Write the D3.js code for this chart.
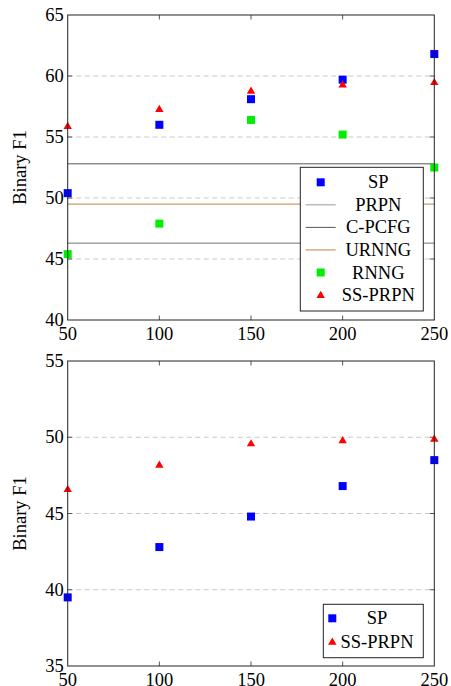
<!DOCTYPE html>
<html>
<head>
<meta charset="utf-8">
<script src="https://cdn.jsdelivr.net/npm/d3@7"></script>
<style>
  body { margin: 0; background: #fff; }
</style>
</head>
<body>
<div id="chartArea"></div>
<script>
const w = 451;
const h = 686;

// shared x values
const sizes = [50, 100, 150, 200, 250];

// top panel
const topSP = [50.4, 56.0, 58.1, 59.7, 61.8];
const topRNNG = [45.4, 47.9, 56.4, 55.2, 52.5];
const topSSPRPN = [55.9, 57.3, 58.8, 59.3, 59.5];
const prpn = 46.3;
const cpcfg = 52.8;
const urnng = 49.5;
const topYTicks = [40, 45, 50, 55, 60, 65];

// bottom panel
const botSP = [39.5, 42.8, 44.8, 46.8, 48.5];
const botSSPRPN = [46.6, 48.2, 49.6, 49.8, 49.9];
const botYTicks = [35, 40, 45, 50, 55];

const fontSize = 18.5;
const font = "Liberation Serif";
const prpnColor = "#999";
const cpcfgColor = "#555";
const urnngColor = "#c08040";

const svg = d3.select("#chartArea")
    .append("svg")
    .attr("width", w)
    .attr("height", h);

const x = d3.scaleLinear()
    .domain([50, 250])
    .range([67.7, 434.3]);

function label(g, tx, ty, str, anchor) {
    return g.append("text")
        .attr("x", tx)
        .attr("y", ty)
        .attr("text-anchor", anchor)
        .style("font-family", font)
        .style("font-size", fontSize + "px")
        .text(str);
}

function square(g, xs, ys, yScale, color) {
    g.selectAll(null)
        .data(xs.map((d, i) => [d, ys[i]]))
        .enter()
        .append("rect")
        .attr("x", d => x(d[0]) - 4)
        .attr("y", d => yScale(d[1]) - 4)
        .attr("width", 8)
        .attr("height", 8)
        .attr("fill", color);
}

function triangle(g, xs, ys, yScale) {
    g.selectAll(null)
        .data(xs.map((d, i) => [d, ys[i]]))
        .enter()
        .append("path")
        .attr("d", d => {
            let cx = x(d[0]), cy = yScale(d[1]);
            return `M${cx - 4.2},${cy + 3} L${cx + 4.2},${cy + 3} L${cx},${cy - 4.2} Z`;
        })
        .attr("fill", "red");
}

function drawPanel(y, ticks, top, bottom) {
    let g = svg.append("g");

    // dashed grid
    g.selectAll(null)
        .data(ticks.slice(1, -1))
        .enter()
        .append("line")
        .attr("x1", x(50))
        .attr("x2", x(250))
        .attr("y1", d => y(d))
        .attr("y2", d => y(d))
        .attr("stroke", "#bbb")
        .attr("stroke-width", 0.8)
        .attr("stroke-dasharray", "5,3.5");

    // inner ticks on all four sides
    let tl = 4.5;
    sizes.slice(1, -1).forEach(v => {
        g.append("line").attr("x1", x(v)).attr("x2", x(v))
            .attr("y1", top).attr("y2", top + tl).attr("stroke", "#555");
        g.append("line").attr("x1", x(v)).attr("x2", x(v))
            .attr("y1", bottom).attr("y2", bottom - tl).attr("stroke", "#555");
    });
    ticks.slice(1, -1).forEach(v => {
        g.append("line").attr("x1", x(50)).attr("x2", x(50) + tl)
            .attr("y1", y(v)).attr("y2", y(v)).attr("stroke", "#555");
        g.append("line").attr("x1", x(250)).attr("x2", x(250) - tl)
            .attr("y1", y(v)).attr("y2", y(v)).attr("stroke", "#555");
    });

    // tick labels
    ticks.forEach(v => label(g, x(50) - 4, y(v) + 6, v, "end"));
    sizes.forEach(v => label(g, x(v), bottom + 20, v, "middle"));

    label(g, 0, 0, "Binary F1", "middle")
        .attr("transform", `translate(26,${(top + bottom) / 2}) rotate(-90)`);

    return g;
}

function frame(g, top, bottom) {
    g.append("rect")
        .attr("x", x(50))
        .attr("y", top)
        .attr("width", x(250) - x(50))
        .attr("height", bottom - top)
        .attr("fill", "none")
        .attr("stroke", "#222")
        .attr("stroke-width", 1);
}

// ---- top panel ----
const yTop = d3.scaleLinear().domain([40, 65]).range([320, 15]);
const gTop = drawPanel(yTop, topYTicks, 15, 320);

const hlines = [
    {v: prpn, color: "#777"},
    {v: cpcfg, color: "#555"},
    {v: urnng, color: urnngColor}
];
gTop.selectAll(null)
    .data(hlines)
    .enter()
    .append("line")
    .attr("x1", x(50))
    .attr("x2", x(250))
    .attr("y1", d => yTop(d.v))
    .attr("y2", d => yTop(d.v))
    .attr("stroke", d => d.color)
    .attr("stroke-width", 1);

square(gTop, sizes, topSP, yTop, "blue");
square(gTop, sizes, topRNNG, yTop, "#00ee00");
triangle(gTop, sizes, topSSPRPN, yTop);
frame(gTop, 15, 320);

// legend top
const legTop = [
    {name: "SP", kind: "square", color: "blue"},
    {name: "PRPN", kind: "line", color: prpnColor},
    {name: "C-PCFG", kind: "line", color: cpcfgColor},
    {name: "URNNG", kind: "line", color: urnngColor},
    {name: "RNNG", kind: "square", color: "#00ee00"},
    {name: "SS-PRPN", kind: "tri", color: "red"}
];

function legend(items, bx, by, bw, bh, markX, textX, rowY, rowH) {
    let lg = svg.append("g");
    lg.append("rect")
        .attr("x", bx).attr("y", by)
        .attr("width", bw).attr("height", bh)
        .attr("fill", "white")
        .attr("stroke", "#222");
    items.forEach((it, i) => {
        let cy = rowY + i * rowH;
        if (it.kind === "square") {
            lg.append("rect").attr("x", markX - 4).attr("y", cy - 4)
                .attr("width", 8).attr("height", 8).attr("fill", it.color);
        } else if (it.kind === "line") {
            lg.append("line").attr("x1", markX - 15).attr("x2", markX + 15)
                .attr("y1", cy).attr("y2", cy).attr("stroke", it.color);
        } else {
            lg.append("path")
                .attr("d", `M${markX - 4.2},${cy + 3} L${markX + 4.2},${cy + 3} L${markX},${cy - 4.2} Z`)
                .attr("fill", it.color);
        }
        label(lg, textX, cy + 6, it.name, "middle");
    });
}

legend(legTop, 300.3, 167.3, 123, 143.7, 320.7, 378.3, 182.3, 22.55);

// ---- bottom panel ----
const yBot = d3.scaleLinear().domain([35, 55]).range([666, 361]);
const gBot = drawPanel(yBot, botYTicks, 361, 666);
square(gBot, sizes, botSP, yBot, "blue");
triangle(gBot, sizes, botSSPRPN, yBot);
frame(gBot, 361, 666);

const legBot = [
    {name: "SP", kind: "square", color: "blue"},
    {name: "SS-PRPN", kind: "tri", color: "red"}
];
legend(legBot, 323.3, 604.3, 100, 53.4, 332.3, 377, 618.3, 23.4);
</script>
</body>
</html>
